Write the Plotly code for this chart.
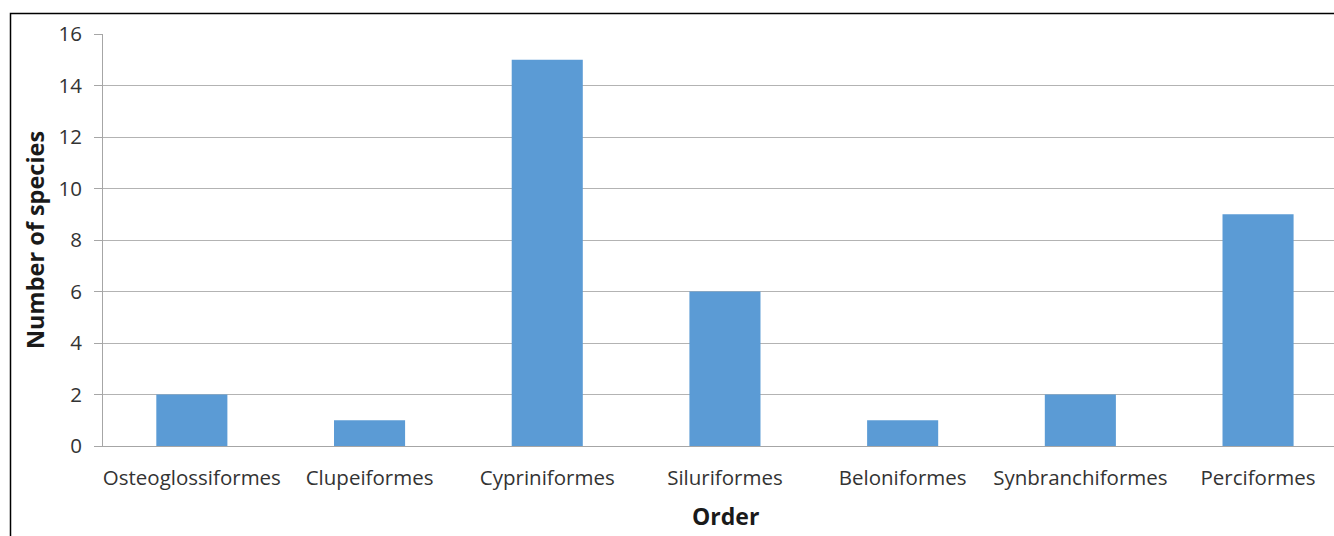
import plotly.graph_objects as go

orders = ["Osteoglossiformes", "Clupeiformes", "Cypriniformes", "Siluriformes",
          "Beloniformes", "Synbranchiformes", "Perciformes"]
species = [2, 1, 15, 6, 1, 2, 9]
y_ticks = [0, 2, 4, 6, 8, 10, 12, 14, 16]

W, H = 1334, 536
L, T, B = 103, 34, 90
plot_w = W - L
cat_w = 177.7
x_max = -0.5 + plot_w / cat_w

font = "Open Sans"

fig = go.Figure()
fig.add_trace(go.Bar(x=list(range(len(orders))), y=species, width=0.4,
                     marker=dict(color="#5B9BD5", line=dict(width=0))))

fig.update_layout(
    width=W, height=H,
    margin=dict(l=L, r=0, t=T, b=B, autoexpand=False),
    paper_bgcolor="white", plot_bgcolor="white",
    showlegend=False,
    font=dict(family=font, color="#333333", size=20),
    xaxis=dict(range=[-0.5, x_max], tickmode="array",
               tickvals=list(range(len(orders))), ticktext=orders,
               showgrid=False, showline=True, linecolor="#a6a6a6", linewidth=1,
               ticks="", ticklabelstandoff=13, zeroline=False,
               tickfont=dict(size=20.5, color="#333333", family=font)),
    yaxis=dict(range=[0, 16], tickmode="array", tickvals=y_ticks,
               showgrid=True, gridcolor="#b3b3b3", gridwidth=1,
               showline=True, linecolor="#a6a6a6", linewidth=1,
               ticks="outside", ticklen=8, tickcolor="#a6a6a6",
               ticklabelstandoff=8, zeroline=False,
               tickfont=dict(size=20.5, color="#333333", family=font)),
    annotations=[
        dict(text="<b>Order</b>", xref="paper", yref="paper",
             x=(725 - L) / plot_w, y=-(516 - 446) / 412, xanchor="center", yanchor="middle",
             showarrow=False, font=dict(size=23, color="#1a1a1a", family=font)),
        dict(text="<b>Number of species</b>", xref="paper", yref="paper",
             x=-(L - 35) / plot_w, y=(446 - 240) / 412, xanchor="center", yanchor="middle",
             textangle=-90, showarrow=False, font=dict(size=23.5, color="#1a1a1a", family=font)),
    ],
    shapes=[dict(type="rect", xref="paper", yref="paper",
                 x0=-(L - 10.5) / plot_w, x1=1.2, y0=-0.4, y1=(446 - 13.5) / 412,
                 line=dict(color="black", width=1.5), fillcolor="rgba(0,0,0,0)", layer="above")],
)

fig.write_html("out.html")
